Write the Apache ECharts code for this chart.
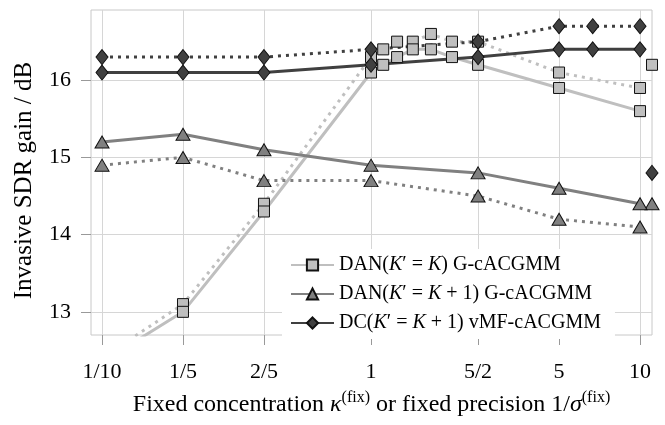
<!DOCTYPE html>
<html lang="en">
<head>
<meta charset="UTF-8">
<title></title>
<style>
    html, body { margin: 0; padding: 0; width: 100%; height: 100%; background: #fff; }
</style>
</head>
<body>
<div id="main" style="width:665px;height:425px;"></div>
<script src="https://cdn.jsdelivr.net/npm/echarts@6/dist/echarts.min.js"></script>
<script type="text/javascript">
    // x ticks (log axis)
    var xTicks = [0.1, 0.2, 0.4, 1, 2.5, 5, 10];
    var xTickLabels = ['1/10', '1/5', '2/5', '1', '5/2', '5', '10'];
    var yTicks = [13, 14, 15, 16];

    // DAN(K'=K) G-cACGMM
    var xDan = [0.1, 0.2, 0.4, 1, 1.11, 1.25, 1.43, 1.67, 2, 2.5, 5, 10];
    var danSolid = [12.35, 13.0, 14.3, 16.1, 16.2, 16.3, 16.4, 16.4, 16.3, 16.2, 15.9, 15.6];
    var danDotted = [12.4, 13.1, 14.4, 16.3, 16.4, 16.5, 16.5, 16.6, 16.5, 16.5, 16.1, 15.9];

    // DAN(K'=K+1) G-cACGMM
    var xDan1 = [0.1, 0.2, 0.4, 1, 2.5, 5, 10];
    var dan1Solid = [15.2, 15.3, 15.1, 14.9, 14.8, 14.6, 14.4];
    var dan1Dotted = [14.9, 15.0, 14.7, 14.7, 14.5, 14.2, 14.1];

    // DC(K'=K+1) vMF-cACGMM
    var xDc = [0.1, 0.2, 0.4, 1, 2.5, 5, 6.67, 10];
    var dcSolid = [16.1, 16.1, 16.1, 16.2, 16.3, 16.4, 16.4, 16.4];
    var dcDotted = [16.3, 16.3, 16.3, 16.4, 16.5, 16.7, 16.7, 16.7];

    // single markers at the right border
    var xEdge = 11.08;
    var edgeDan = 16.2, edgeDan1 = 14.4, edgeDc = 14.8;

    var names = ['DAN(K\u2032=K) G-cACGMM', 'DAN(K\u2032=K+1) G-cACGMM', 'DC(K\u2032=K+1) vMF-cACGMM'];
    var richNames = [
        'DAN({i|K}\u2032 = {i|K}) G-cACGMM',
        'DAN({i|K}\u2032 = {i|K} + 1) G-cACGMM',
        'DC({i|K}\u2032 = {i|K} + 1) vMF-cACGMM'
    ];

    var FONT = 'Liberation Serif';
    var light = '#bfbfbf', mid = '#808080', dark = '#404040';

    function pairs(xs, ys) {
        var out = [];
        for (var i = 0; i < xs.length; i++) out.push([xs[i], ys[i]]);
        return out;
    }

    function lineSeries(name, xs, ys, color, symbol, size, dotted) {
        return {
            name: name,
            type: 'line',
            data: pairs(xs, ys),
            symbol: symbol,
            symbolSize: size,
            clip: true,
            lineStyle: { color: color, width: 3, type: dotted ? [3, 5] : 'solid', cap: 'butt' },
            itemStyle: { color: color, borderColor: '#111', borderWidth: 1 },
            emphasis: { disabled: true },
            animation: false
        };
    }

    function edgeSeries(name, y, color, symbol, size) {
        return {
            name: name,
            type: 'scatter',
            data: [[xEdge, y]],
            symbol: symbol,
            symbolSize: size,
            clip: false,
            itemStyle: { color: color, borderColor: '#111', borderWidth: 1, opacity: 1 },
            animation: false
        };
    }

    var myChart = echarts.init(document.getElementById('main'));
    var option = {
        animation: false,
        textStyle: { fontFamily: FONT },
        grid: { left: 91, right: 13, top: 10, bottom: 81, show: true, borderColor: '#c8c8c8', borderWidth: 1 },
        legend: {
            data: names,
            orient: 'vertical',
            left: 282,
            top: 249,
            padding: [6, 14, 6, 8],
            itemWidth: 43,
            itemHeight: 14,
            itemGap: 9,
            backgroundColor: '#fff',
            textStyle: {
                fontFamily: FONT, fontSize: 20, color: '#000', lineHeight: 20,
                rich: { i: { fontFamily: FONT, fontSize: 20, fontStyle: 'italic', color: '#000', lineHeight: 20 } }
            },
            formatter: function (name) { return richNames[names.indexOf(name)]; }
        },
        xAxis: {
            type: 'log',
            logBase: 10,
            min: 0.091,
            max: 11.08,
            axisLine: { show: false },
            axisTick: { show: true, inside: false, length: 10, customValues: xTicks, lineStyle: { color: '#999' } },
            axisLabel: {
                customValues: xTicks, margin: 26, fontSize: 22, color: '#000', fontFamily: FONT,
                formatter: function (v) {
                    for (var i = 0; i < xTicks.length; i++) {
                        if (Math.abs(xTicks[i] - v) < 1e-6 * xTicks[i]) return xTickLabels[i];
                    }
                    return '';
                }
            },
            splitLine: { show: true, lineStyle: { color: '#d6d6d6', width: 1 } },
            name: 'Fixed concentration {i|\u03BA}{sup|(fix)} or fixed precision 1/{i|\u03C3}{sup|(fix)}',
            nameLocation: 'middle',
            nameGap: 55,
            nameTextStyle: {
                fontFamily: FONT, fontSize: 24, color: '#000', lineHeight: 30,
                rich: {
                    i: { fontFamily: FONT, fontSize: 24, fontStyle: 'italic', color: '#000', lineHeight: 30 },
                    sup: { fontFamily: FONT, fontSize: 16, color: '#000', verticalAlign: 'top', lineHeight: 18 }
                }
            }
        },
        yAxis: {
            type: 'value',
            min: 12.7,
            max: 16.91,
            axisLine: { show: false },
            axisTick: { show: true, inside: false, length: 10, customValues: yTicks, lineStyle: { color: '#999' } },
            axisLabel: { customValues: yTicks, margin: 20, fontSize: 22, color: '#000', fontFamily: FONT },
            splitLine: { show: true, lineStyle: { color: '#d6d6d6', width: 1 } },
            name: 'Invasive SDR gain / dB',
            nameLocation: 'middle',
            nameGap: 54,
            nameRotate: 90,
            nameTextStyle: { fontFamily: FONT, fontSize: 25, color: '#000', padding: [0, 16, 0, 0] }
        },
        series: [
            lineSeries('danDotted', xDan, danDotted, light, 'rect', 11, true),
            lineSeries(names[0], xDan, danSolid, light, 'rect', 11, false),
            lineSeries('dan1Dotted', xDan1, dan1Dotted, mid, 'triangle', [14, 12], true),
            lineSeries(names[1], xDan1, dan1Solid, mid, 'triangle', [14, 12], false),
            lineSeries('dcDotted', xDc, dcDotted, dark, 'diamond', [12, 15], true),
            lineSeries(names[2], xDc, dcSolid, dark, 'diamond', [12, 15], false),
            edgeSeries('edgeDan', edgeDan, light, 'rect', 11),
            edgeSeries('edgeDan1', edgeDan1, mid, 'triangle', [14, 12]),
            edgeSeries('edgeDc', edgeDc, dark, 'diamond', [12, 15])
        ]
    };
    myChart.setOption(option);
    window.addEventListener('resize', function () { myChart.resize(); });
</script>
</body>
</html>
